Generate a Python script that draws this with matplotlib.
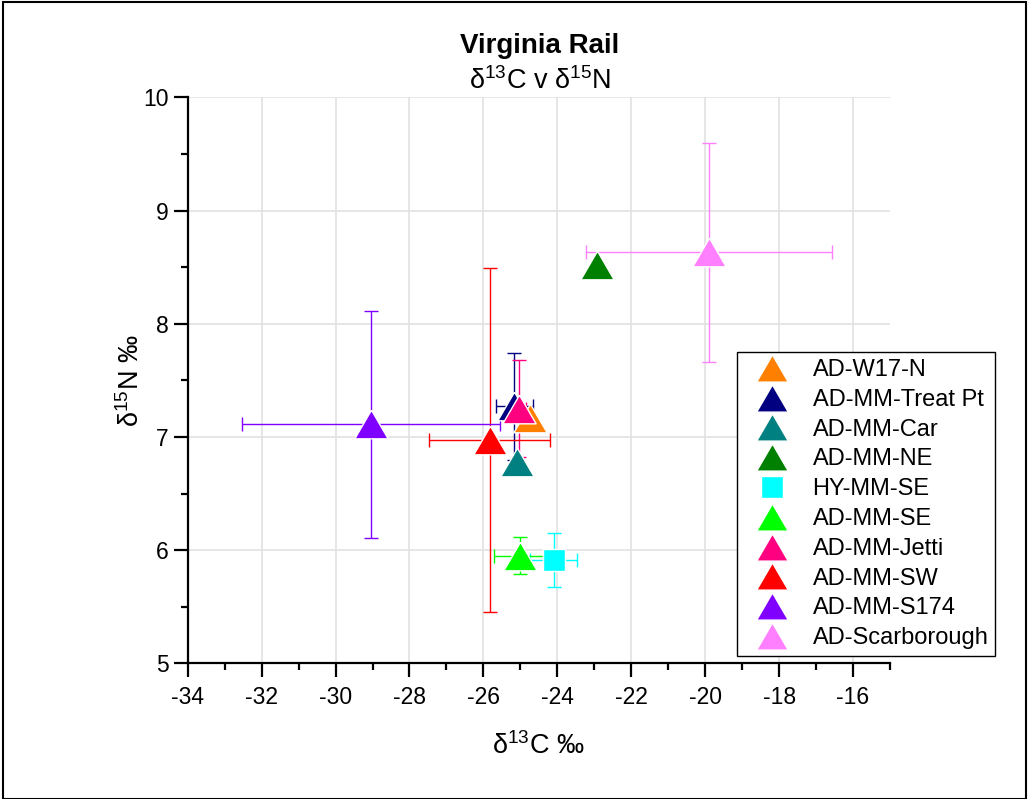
import matplotlib
matplotlib.use("Agg")
import matplotlib.pyplot as plt
from matplotlib.patches import Rectangle
from matplotlib.ticker import MultipleLocator

plt.rcParams["font.family"] = ["Liberation Sans", "DejaVu Sans"]
plt.rcParams["mathtext.fontset"] = "custom"
plt.rcParams["mathtext.rm"] = "Liberation Sans"
plt.rcParams["mathtext.it"] = "Liberation Sans"
plt.rcParams["mathtext.bf"] = "Liberation Sans:bold"
plt.rcParams["axes.unicode_minus"] = False

# ---- data ----
sites = ["AD-W17-N", "AD-MM-Treat Pt", "AD-MM-Car", "AD-MM-NE", "HY-MM-SE",
         "AD-MM-SE", "AD-MM-Jetti", "AD-MM-SW", "AD-MM-S174", "AD-Scarborough"]
d13c = [-24.75, -25.16, -25.09, -22.93, -24.10, -25.00, -25.05, -25.83, -29.04, -19.90]
d15n = [7.17, 7.27, 6.78, 8.52, 5.91, 5.95, 7.25, 6.97, 7.11, 8.63]
d13c_err = [None, 0.49, None, None, 0.63, 0.72, 0.20, 1.64, 3.48, 3.33]
d15n_err = [None, 0.47, None, None, 0.24, 0.165, 0.43, 1.52, 1.005, 0.97]
colors = ["#FF8000", "#000080", "#008080", "#008000", "#00FFFF",
          "#00FF00", "#FF0080", "#FF0000", "#8000FF", "#FF80FF"]
markers = ["tri", "tri", "tri", "tri", "s", "tri", "tri", "tri", "tri", "tri"]

TRI = [(0, 0.86), (-1, -0.86), (1, -0.86), (0, 0.86)]

fig = plt.figure(figsize=(10.29, 7.99), dpi=100)
ax = fig.add_axes([0.1824, 0.1698, 0.6825, 0.7084])

for i, name in enumerate(sites):
    m = TRI if markers[i] == "tri" else "s"
    ms = 24 if markers[i] == "tri" else 16
    if d13c_err[i] is not None:
        ax.errorbar(d13c[i], d15n[i], xerr=d13c_err[i], yerr=d15n_err[i],
                    fmt="none", ecolor=colors[i], elinewidth=1, capsize=5,
                    capthick=1, zorder=2 + i * 0.1)
    ax.plot(d13c[i], d15n[i], linestyle="none", marker=m, markersize=ms,
            color=colors[i], markeredgecolor="white", markeredgewidth=1.0,
            label=name, zorder=3 + i * 0.1)

ax.set_xlim(-34, -15)
ax.set_ylim(5, 10)
ax.xaxis.set_major_locator(MultipleLocator(2))
ax.xaxis.set_minor_locator(MultipleLocator(1))
ax.yaxis.set_major_locator(MultipleLocator(1))
ax.yaxis.set_minor_locator(MultipleLocator(0.5))
ax.grid(True, which="major", color="#E2E2E2", linewidth=1.2)
ax.set_axisbelow(True)
for s in ["top", "right"]:
    ax.spines[s].set_visible(False)
for s in ["left", "bottom"]:
    ax.spines[s].set_linewidth(1.6)
ax.tick_params(which="major", direction="out", length=10, width=1.6, labelsize=16.5)
ax.tick_params(which="minor", direction="out", length=5, width=1.6)
ax.tick_params(axis="x", pad=6)

ax.set_xlabel(r"$\mathrm{\delta}^{13}$C ‰", fontsize=19.5, labelpad=17)
ax.set_ylabel(r"$\mathrm{\delta}^{15}$N ‰", fontsize=19.5, labelpad=-1)

fig.text(0.5248, 0.943, "Virginia Rail", ha="center", va="center",
         fontsize=20, fontweight="bold")
fig.text(0.5248, 0.898, r"$\mathrm{\delta}^{13}$C v $\mathrm{\delta}^{15}$N",
         ha="center", va="center", fontsize=19.5)

leg = fig.legend(loc="upper left", bbox_to_anchor=(0.7162, 0.5594),
                 bbox_transform=fig.transFigure, fontsize=17, frameon=True,
                 fancybox=False, edgecolor="black", framealpha=1,
                 handletextpad=0.5, labelspacing=0.33, borderpad=0.3,
                 borderaxespad=0, handlelength=2.4, markerscale=0.95)
leg.get_frame().set_linewidth(1.0)

# outer border of the figure
fig.patches.append(Rectangle((0.003, 0.0), 0.994, 0.997, transform=fig.transFigure,
                             fill=False, edgecolor="black", linewidth=1.5))

fig.savefig("out.png", dpi=100)
